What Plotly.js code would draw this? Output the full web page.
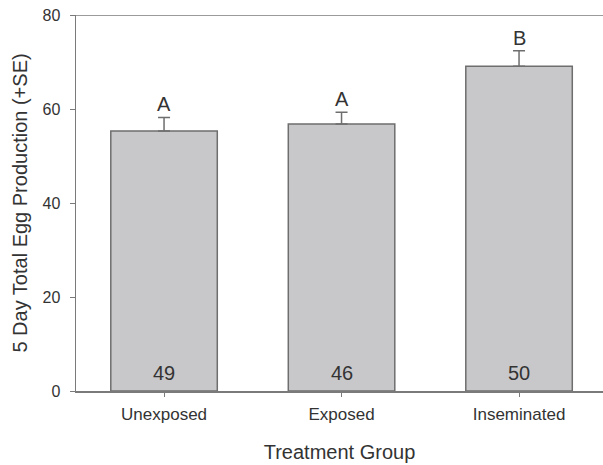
<!DOCTYPE html>
<html>
<head>
<meta charset="utf-8">
<script src="https://cdn.plot.ly/plotly-3.0.1.min.js"></script>
<style>html,body{margin:0;padding:0;background:#fff;}#chart{width:603px;height:465px;}</style>
</head>
<body>
<div id="chart"></div>
<script>
var groups = ["Unexposed", "Exposed", "Inseminated"];
var eggMeans = [55.3, 56.8, 69.1];
var eggSE = [2.9, 2.5, 3.3];
var sigLetters = ["A", "A", "B"];
var sampleSizes = [49, 46, 50];
var yTicks = [0, 20, 40, 60, 80];

var textColor = "#333333";
var lineColor = "#7a7a7a";

var trace = {
  type: "bar",
  x: groups,
  y: eggMeans,
  width: 0.6,
  marker: {color: "#c8c8ca", line: {color: "#6e6e6e", width: 1.5}},
  error_y: {type: "data", symmetric: false, array: eggSE, arrayminus: eggSE.map(function(){return 0;}),
            color: "#6e6e6e", thickness: 1.5, width: 6},
  hoverinfo: "none"
};

var annotations = [];
groups.forEach(function(g, i){
  annotations.push({x: g, y: eggMeans[i] + eggSE[i], xref: "x", yref: "y", text: sigLetters[i],
    showarrow: false, yanchor: "bottom", yshift: 0, font: {family: "Liberation Sans, Arial, sans-serif", size: 20, color: textColor}});
  annotations.push({x: g, y: 0, xref: "x", yref: "y", text: String(sampleSizes[i]),
    showarrow: false, yanchor: "bottom", yshift: 5, font: {family: "Liberation Sans, Arial, sans-serif", size: 20, color: textColor}});
});

var layout = {
  width: 603, height: 465,
  margin: {l: 76, r: 0, t: 15, b: 74},
  paper_bgcolor: "#fff", plot_bgcolor: "#fff",
  showlegend: false,
  font: {family: "Liberation Sans, Arial, sans-serif", color: textColor},
  xaxis: {
    range: [-0.496, 2.473], showgrid: false, zeroline: false,
    showline: true, linecolor: lineColor, linewidth: 1.5,
    ticks: "outside", ticklen: 4, tickcolor: lineColor, tickwidth: 1,
    ticklabelstandoff: 3,
    tickfont: {size: 17, color: textColor},
    title: {text: "Treatment Group", font: {size: 20, color: textColor}, standoff: 22}
  },
  yaxis: {
    range: [0, 80], tickvals: yTicks, ticktext: yTicks.map(String),
    showgrid: false, zeroline: false,
    showline: true, linecolor: lineColor, linewidth: 1.5,
    ticks: "outside", ticklen: 5, tickcolor: lineColor, tickwidth: 1,
    ticklabelstandoff: 6,
    tickfont: {size: 16, color: textColor},
    title: {text: "5 Day Total Egg Production (+SE)", font: {size: 20, color: textColor}, standoff: 9}
  },
  shapes: [{type: "line", xref: "paper", yref: "y", x0: 0, x1: 1, y0: 80, y1: 80,
            line: {color: lineColor, width: 1.5}}],
  annotations: annotations
};

Plotly.newPlot("chart", [trace], layout, {displayModeBar: false, staticPlot: true});
</script>
</body>
</html>
